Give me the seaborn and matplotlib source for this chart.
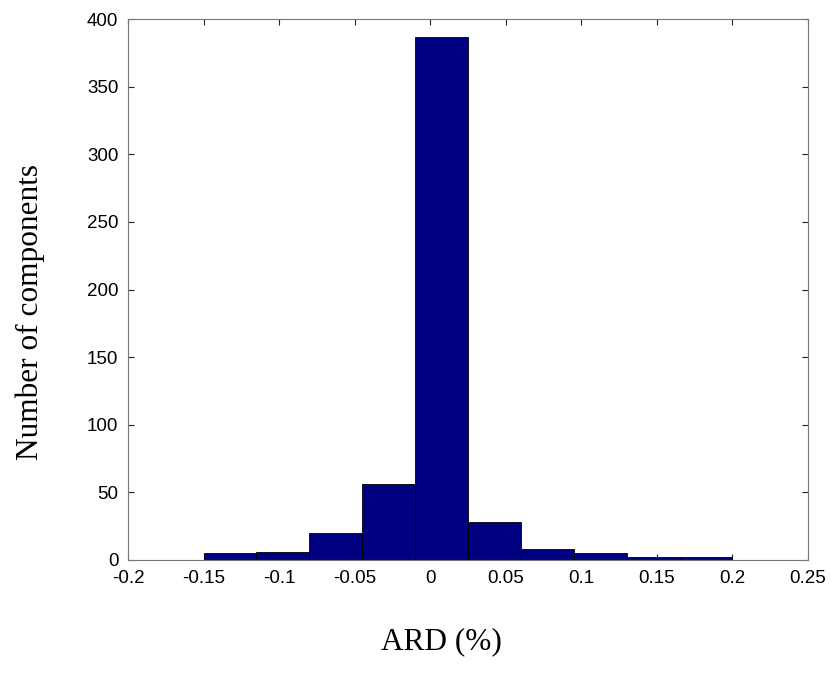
import numpy as np
import matplotlib
matplotlib.use("Agg")
import matplotlib.pyplot as plt
import seaborn as sns

bin_edges = [-0.15, -0.115, -0.08, -0.045, -0.01, 0.025, 0.06, 0.095, 0.13, 0.165, 0.2]
counts = [5, 6, 20, 56, 387, 28, 8, 5, 2, 2]
x_ticks = [-0.2, -0.15, -0.1, -0.05, 0, 0.05, 0.1, 0.15, 0.2, 0.25]
x_tick_labels = ["-0.2", "-0.15", "-0.1", "-0.05", "0", "0.05", "0.1", "0.15", "0.2", "0.25"]
y_ticks = [0, 50, 100, 150, 200, 250, 300, 350, 400]

centers = [(a + b) / 2 for a, b in zip(bin_edges[:-1], bin_edges[1:])]

sns.set_style("ticks")
fig = plt.figure(figsize=(8.31, 6.85), dpi=100)
ax = fig.add_axes([128/831, 1 - 560/685, (808-128)/831, (560-19)/685])

sns.histplot(x=centers, weights=counts, bins=bin_edges, ax=ax,
             color="#000080", edgecolor="black", linewidth=0.6, alpha=1.0)

ax.set_xlim(-0.2, 0.25)
ax.set_ylim(0, 400)
ax.set_xticks(x_ticks)
ax.set_xticklabels(x_tick_labels)
ax.set_yticks(y_ticks)
ax.tick_params(direction="in", top=True, right=True, length=4, width=0.8,
               labelsize=13.5, pad=7, colors="#222222", labelcolor="black")
for lab in ax.get_xticklabels() + ax.get_yticklabels():
    lab.set_fontfamily("Liberation Sans")
for s in ax.spines.values():
    s.set_visible(True)
    s.set_color("#777777")
    s.set_linewidth(0.8)

ax.set_xlabel("ARD (%)", fontsize=22.5, fontfamily="Liberation Serif", va="center", color="black")
ax.set_ylabel("Number of components", fontsize=22.5, fontfamily="Liberation Serif", va="center", color="black")
ax.xaxis.set_label_coords((441 - 128) / 680, (560 - 642) / 541)
ax.yaxis.set_label_coords((30 - 128) / 680, (560 - 312) / 541)

fig.savefig("out.png", dpi=100)
